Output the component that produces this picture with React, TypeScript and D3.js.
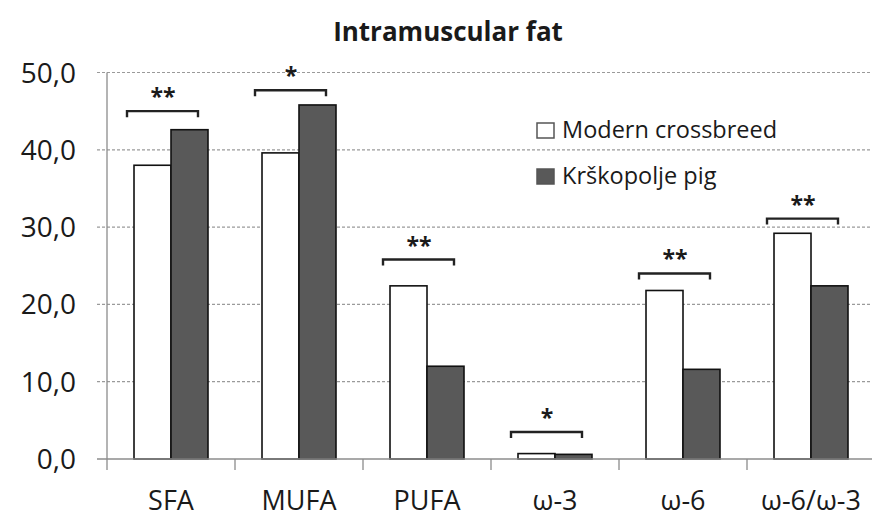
import * as d3 from 'd3';
import { useEffect, useRef } from 'react';

const categories = ['SFA', 'MUFA', 'PUFA', 'ω-3', 'ω-6', 'ω-6/ω-3'];
const seriesNames = ['Modern crossbreed', 'Krškopolje pig'];
const modernValues = [38.0, 39.6, 22.4, 0.7, 21.8, 29.2];
const krskopoljeValues = [42.6, 45.8, 12.0, 0.6, 11.6, 22.4];
const significance = ['**', '*', '**', '*', '**', '**'];
const bracketLevels = [45.0, 47.7, 25.8, 3.5, 24.0, 31.1];
const yTicks = [0, 10, 20, 30, 40, 50];

const WIDTH = 872;
const HEIGHT = 523;
const FONT = '"Open Sans", "DejaVu Sans", sans-serif';

export default function App() {
  const svgRef = useRef<SVGSVGElement>(null);

  useEffect(() => {
    if (!svgRef.current) return;
    const svg = d3.select(svgRef.current);
    svg.selectAll('*').remove();

    const left = 107;
    const right = 875;
    const yScale = d3.scaleLinear().domain([0, 50]).range([459, 72.5]);
    const x0 = d3.scaleBand().domain(categories).range([left, right]).padding(0);
    const x1 = d3
      .scaleBand()
      .domain(seriesNames)
      .range([0, x0.bandwidth()])
      .paddingInner(0)
      .paddingOuter(0.73);
    const color = d3.scaleOrdinal<string, string>().domain(seriesNames).range(['#ffffff', '#595959']);

    // title
    svg
      .append('text')
      .attr('x', 448)
      .attr('y', 41)
      .attr('text-anchor', 'middle')
      .attr('font-family', FONT)
      .attr('font-weight', 'bold')
      .attr('font-size', 26)
      .attr('fill', '#1a1a1a')
      .text('Intramuscular fat');

    // gridlines
    svg
      .append('g')
      .selectAll('line')
      .data(yTicks.filter((t) => t > 0))
      .enter()
      .append('line')
      .attr('x1', left - 10)
      .attr('x2', WIDTH)
      .attr('y1', (d) => yScale(d))
      .attr('y2', (d) => yScale(d))
      .attr('stroke', '#9a9a9a')
      .attr('stroke-width', 1.2)
      .attr('stroke-dasharray', '3,2');

    // y tick labels
    svg
      .append('g')
      .selectAll('text')
      .data(yTicks)
      .enter()
      .append('text')
      .attr('x', 76)
      .attr('y', (d) => yScale(d))
      .attr('dy', '0.36em')
      .attr('text-anchor', 'end')
      .attr('font-family', FONT)
      .attr('font-size', 28)
      .attr('fill', '#1a1a1a')
      .text((d) => d3.format('.1f')(d).replace('.', ','));

    // bars
    const rows = categories.map((c, i) => ({
      category: c,
      values: [modernValues[i], krskopoljeValues[i]]
    }));

    const groups = svg
      .append('g')
      .selectAll('g')
      .data(rows)
      .enter()
      .append('g')
      .attr('transform', (d) => `translate(${x0(d.category)},0)`);

    groups
      .selectAll('rect')
      .data((d) => d.values.map((v, j) => ({ name: seriesNames[j], value: v })))
      .enter()
      .append('rect')
      .attr('x', (d) => x1(d.name)!)
      .attr('width', x1.bandwidth())
      .attr('y', (d) => yScale(d.value))
      .attr('height', (d) => yScale(0) - yScale(d.value))
      .attr('fill', (d) => color(d.name))
      .attr('stroke', '#111')
      .attr('stroke-width', 1.6);

    // axes
    svg
      .append('line')
      .attr('x1', left)
      .attr('x2', left)
      .attr('y1', yScale(50))
      .attr('y2', yScale(0) + 11)
      .attr('stroke', '#8c8c8c')
      .attr('stroke-width', 1.3);
    svg
      .append('line')
      .attr('x1', left - 10)
      .attr('x2', WIDTH)
      .attr('y1', yScale(0))
      .attr('y2', yScale(0))
      .attr('stroke', '#8c8c8c')
      .attr('stroke-width', 1.3);
    svg
      .append('g')
      .selectAll('line')
      .data(categories.slice(1))
      .enter()
      .append('line')
      .attr('x1', (d) => x0(d)!)
      .attr('x2', (d) => x0(d)!)
      .attr('y1', yScale(0))
      .attr('y2', yScale(0) + 11)
      .attr('stroke', '#8c8c8c')
      .attr('stroke-width', 1.3);

    // x labels
    svg
      .append('g')
      .selectAll('text')
      .data(categories)
      .enter()
      .append('text')
      .attr('x', (d) => x0(d)! + x0.bandwidth() / 2)
      .attr('y', 510)
      .attr('text-anchor', 'middle')
      .attr('font-family', FONT)
      .attr('font-size', 27)
      .attr('fill', '#1a1a1a')
      .text((d) => d);

    // significance brackets
    const sig = svg
      .append('g')
      .selectAll('g')
      .data(rows.map((r, i) => ({ ...r, mark: significance[i], level: bracketLevels[i] })))
      .enter()
      .append('g')
      .attr('transform', (d) => `translate(${x0(d.category)},0)`);

    sig
      .append('path')
      .attr('d', (d) => {
        const y = yScale(d.level);
        const a = x1(seriesNames[0])! - 7;
        const b = x1(seriesNames[1])! + x1.bandwidth() - 10;
        return `M${a},${y + 6}V${y}H${b}V${y + 6}`;
      })
      .attr('fill', 'none')
      .attr('stroke', '#222')
      .attr('stroke-width', 2.4);

    sig
      .append('text')
      .attr('x', x0.bandwidth() / 2 - 8)
      .attr('y', (d) => yScale(d.level) - 6)
      .attr('text-anchor', 'middle')
      .attr('font-family', FONT)
      .attr('font-weight', 'bold')
      .attr('font-size', 23)
      .attr('fill', '#1a1a1a')
      .text((d) => d.mark);

    // legend
    const legend = svg
      .append('g')
      .selectAll('g')
      .data(seriesNames)
      .enter()
      .append('g')
      .attr('transform', (_, i) => `translate(537,${123 + i * 46})`);
    legend
      .append('rect')
      .attr('width', 17)
      .attr('height', 15)
      .attr('fill', (d) => color(d))
      .attr('stroke', '#555')
      .attr('stroke-width', 1.5);
    legend
      .append('text')
      .attr('x', 25)
      .attr('y', 15)
      .attr('font-family', FONT)
      .attr('font-size', 23.5)
      .attr('fill', '#1a1a1a')
      .text((d) => d);
  }, []);

  return (
    <svg
      ref={svgRef}
      width={WIDTH}
      height={HEIGHT}
      style={{ position: 'absolute', left: 0, top: 0, background: '#fff' }}
    />
  );
}
